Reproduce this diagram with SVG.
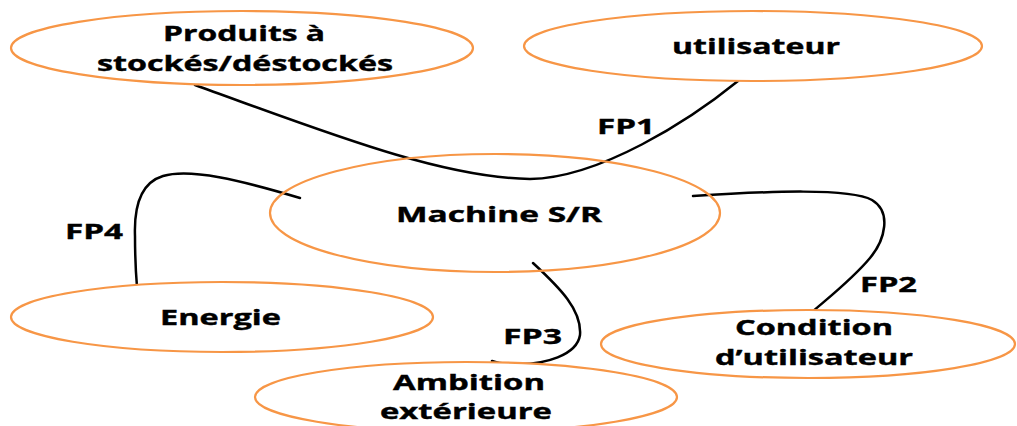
<svg xmlns="http://www.w3.org/2000/svg" width="1017" height="426" viewBox="0 0 1017 426">
  <style>
    .node ellipse { fill: #ffffff; stroke: #F79646; stroke-width: 2.2; }
    .label { font-family: "Open Sans", "Liberation Sans", sans-serif; font-weight: bold; font-size: 22px; fill: #000000; stroke: #000000; stroke-width: 0.4; }
    .link { fill: none; stroke: #000000; stroke-width: 2.5; stroke-linecap: round; }
  </style>
  <rect width="1017" height="426" fill="#ffffff"/>

  <!-- connectors (drawn under the central ellipse where they cross it) -->
  <g id="connectors">
    <path class="link" d="M195,85 C320,130 440,178 530,179 C600,178 690,120 738,81"/>
    <path class="link" d="M300,198 C240,180 190,168 163,176 C140,183 134,208 135,236 C135,260 136,275 137,287"/>
    <path class="link" d="M693,196 C770,191 850,188 872,200 C892,212 885,240 870,258 C850,282 825,300 803,320"/>
    <path class="link" d="M533,263 C560,288 582,310 580,335 C577,355 545,365 515,364 C505,364 497,363 492,361"/>
  </g>

  <g id="node-produits" class="node">
    <ellipse cx="242" cy="48" rx="231" ry="37"/>
    <text class="label" x="163" y="41" textLength="162" lengthAdjust="spacingAndGlyphs">Produits à</text>
    <text class="label" x="97" y="71" textLength="296" lengthAdjust="spacingAndGlyphs">stockés/déstockés</text>
  </g>

  <g id="node-utilisateur" class="node">
    <ellipse cx="753" cy="46" rx="229" ry="35"/>
    <text class="label" x="672" y="54" textLength="168" lengthAdjust="spacingAndGlyphs">utilisateur</text>
  </g>

  <g id="node-machine" class="node">
    <ellipse cx="495" cy="213" rx="225" ry="59" fill-opacity="0"/>
    <text class="label" x="396" y="222" textLength="206" lengthAdjust="spacingAndGlyphs">Machine S/R</text>
  </g>

  <g id="node-energie" class="node">
    <ellipse cx="222" cy="317" rx="211" ry="35"/>
    <text class="label" x="160" y="325" textLength="121" lengthAdjust="spacingAndGlyphs">Energie</text>
  </g>

  <g id="node-ambition" class="node">
    <ellipse cx="466" cy="397" rx="211" ry="35"/>
    <text class="label" x="393" y="390" textLength="152" lengthAdjust="spacingAndGlyphs">Ambition</text>
    <text class="label" x="380" y="419" textLength="172" lengthAdjust="spacingAndGlyphs">extérieure</text>
  </g>

  <g id="node-condition" class="node">
    <ellipse cx="808" cy="344" rx="207" ry="34"/>
    <text class="label" x="735" y="335" textLength="158" lengthAdjust="spacingAndGlyphs">Condition</text>
    <text class="label" x="715" y="365" textLength="198" lengthAdjust="spacingAndGlyphs">d’utilisateur</text>
  </g>

  <g id="labels">
    <text class="label" x="597" y="134" textLength="58" lengthAdjust="spacingAndGlyphs">FP1</text>
    <text class="label" x="860" y="292" textLength="57" lengthAdjust="spacingAndGlyphs">FP2</text>
    <text class="label" x="503" y="344" textLength="59" lengthAdjust="spacingAndGlyphs">FP3</text>
    <text class="label" x="65" y="239" textLength="58" lengthAdjust="spacingAndGlyphs">FP4</text>
  </g>
</svg>
